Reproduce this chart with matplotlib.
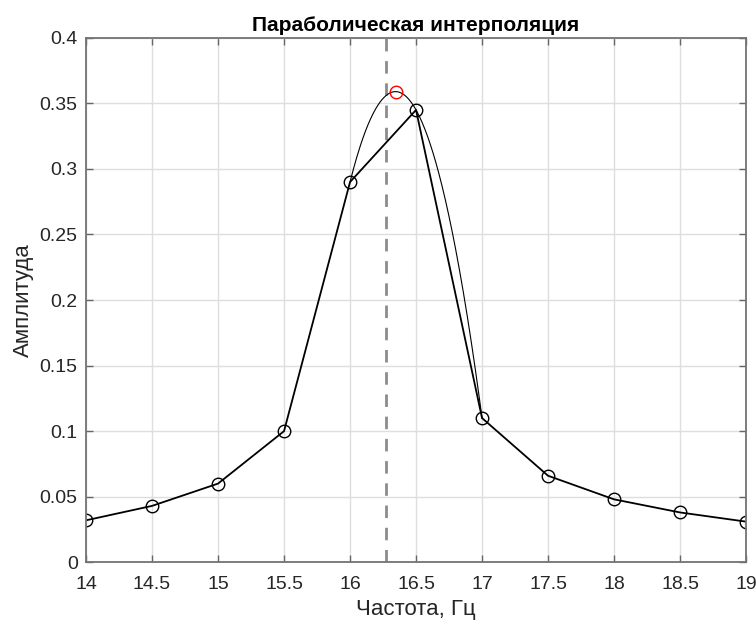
import matplotlib.pyplot as plt
import numpy as np

plt.rcParams['font.family'] = ['Liberation Sans', 'DejaVu Sans']

# Данные
freq = [14, 14.5, 15, 15.5, 16, 16.5, 17, 17.5, 18, 18.5, 19]
ampl = [0.032, 0.043, 0.060, 0.100, 0.290, 0.345, 0.110, 0.066, 0.048, 0.038, 0.031]
f_true = 16.27          # истинная частота (пунктир)
x_ticks = [14, 14.5, 15, 15.5, 16, 16.5, 17, 17.5, 18, 18.5, 19]
x_labels = ['14', '14.5', '15', '15.5', '16', '16.5', '17', '17.5', '18', '18.5', '19']
y_ticks = [0, 0.05, 0.1, 0.15, 0.2, 0.25, 0.3, 0.35, 0.4]
y_labels = ['0', '0.05', '0.1', '0.15', '0.2', '0.25', '0.3', '0.35', '0.4']

# Парабола через максимум и соседей
k = int(np.argmax(ampl))
px = freq[k-1:k+2]
py = ampl[k-1:k+2]
p = np.polyfit(px, py, 2)
xx = np.linspace(px[0], px[-1], 200)
yy = np.polyval(p, xx)
x_peak = -p[1] / (2 * p[0])
y_peak = np.polyval(p, x_peak)

txt = (0.15, 0.15, 0.15)
fig = plt.figure(figsize=(7.56, 6.26), dpi=100)
ax = fig.add_axes([0.1138, 0.1018, 0.873, 0.8378])

ax.axvline(f_true, color=(0.55, 0.55, 0.55), linestyle=(0, (4.5, 3.5)), linewidth=2)
ax.plot(xx, yy, color='black', linewidth=0.8)
ax.plot(freq, ampl, color='black', linewidth=1.3, marker='o', markersize=9,
        markerfacecolor='none', markeredgewidth=1.0)
ax.plot(x_peak, y_peak, 'o', color='red', markersize=9, markerfacecolor='none',
        markeredgewidth=1.0)

ax.set_xlim(14, 19)
ax.set_ylim(0, 0.4)
ax.set_xticks(x_ticks)
ax.set_xticklabels(x_labels)
ax.set_yticks(y_ticks)
ax.set_yticklabels(y_labels)
ax.grid(True, color=(0.87, 0.87, 0.87), linewidth=1)
ax.set_axisbelow(True)
ax.tick_params(direction='in', top=True, right=True, length=5, width=1,
               color=(0.4, 0.4, 0.4), labelsize=14, labelcolor=txt)
ax.tick_params(axis='x', pad=10)
ax.tick_params(axis='y', pad=6)
for s in ax.spines.values():
    s.set_color((0.45, 0.45, 0.45))
    s.set_linewidth(1.3)

ax.set_xlabel('Частота, Гц', fontsize=16, color=txt, labelpad=4)
ax.set_ylabel('Амплитуда', fontsize=16, color=txt, labelpad=4)
ax.set_title('Параболическая интерполяция', fontsize=15, fontweight='bold',
             color='black', pad=5)

fig.savefig('out.png', dpi=100)
